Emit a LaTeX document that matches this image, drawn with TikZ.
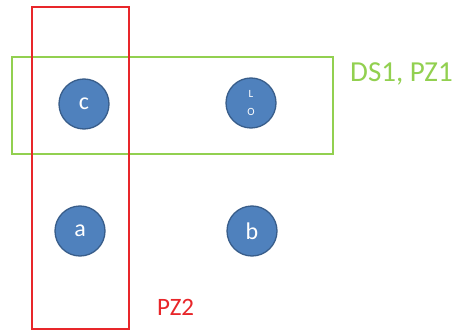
\documentclass[tikz,border=0pt]{standalone}
\usepackage{fontspec}
\setmainfont{Carlito}
\definecolor{dotfill}{HTML}{4F81BD}
\definecolor{dotline}{HTML}{385D8A}
\definecolor{zonered}{HTML}{E8262A}
\definecolor{zonegreen}{HTML}{92D050}
\begin{document}
\begin{tikzpicture}[x=1pt,y=1pt,
  dot/.style={circle,draw=dotline,line width=1.3pt,fill=dotfill,minimum size=50pt,inner sep=0pt,text=white,font=\fontsize{24}{24}\selectfont},
  zone/.style={line width=2pt},
  zonelabel/.style={anchor=base west,inner sep=0pt}]
\useasboundingbox (0,0) rectangle (457,332);
\fill[white] (0,0) rectangle (457,332);
% zones
\draw[zone,zonegreen] (12,178) rectangle (333,275);
\draw[zone,zonered] (32,3) rectangle (129,325);
% points
\node[dot] (c) at (84,228) {c};
\node[dot,align=center,font=\fontsize{11}{18.5}\selectfont] (d) at (251,229) {L\\O};
\node[dot] (a) at (80,101) {a};
\node[dot] (b) at (252,101) {b};
% zone labels
\node[zonelabel,text=zonegreen,font=\fontsize{29}{29}\selectfont] (ds) at (350,250) {DS1, PZ1};
\node[zonelabel,text=zonered,font=\fontsize{25}{25}\selectfont] (pz) at (157,17) {PZ2};
\end{tikzpicture}
\end{document}
